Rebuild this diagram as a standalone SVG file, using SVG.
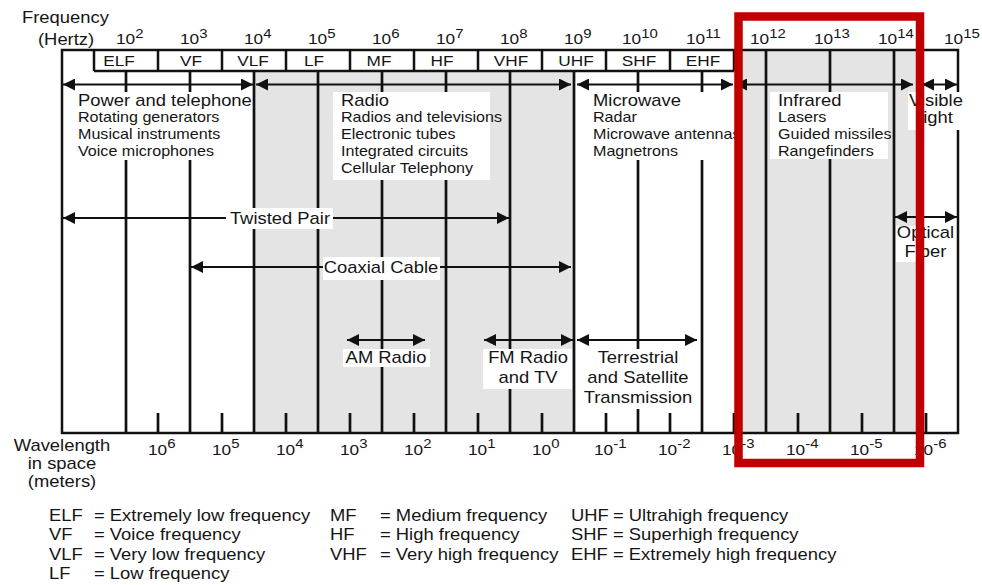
<svg xmlns="http://www.w3.org/2000/svg" width="982" height="585" viewBox="0 0 982 585">
  <defs>
    <marker id="head" viewBox="0 0 12 12" refX="12" refY="6" markerWidth="12" markerHeight="12" markerUnits="userSpaceOnUse" orient="auto-start-reverse">
      <path d="M0,0 L12,6 L0,12 Z" fill="#111"/>
    </marker>
    <style>
      text { font-family: "Liberation Sans", Arial, sans-serif; fill: #151515; font-size: 16px;
             transform-box: fill-box; transform: scaleX(1.15); transform-origin: 0 0; }
      text.m { text-anchor: middle; transform-origin: 50% 0; }
      text.sm { font-size: 14px; }
      text.band { font-size: 15px; }
      text.fq { font-size: 15px; }
      text.wl { font-size: 15px; }
      .shade { fill: #e4e4e4; }
      .bg { fill: #ffffff; }
      .dec { stroke: #111; stroke-width: 2.7; fill: none; }
      .frame { stroke: #111; stroke-width: 2.5; fill: none; }
      .arrow { stroke: #111; stroke-width: 2; fill: none; marker-start: url(#head); marker-end: url(#head); }
    </style>
  </defs>

  <!-- shaded spectrum bands -->
  <g id="shading">
    <rect class="shade" x="254" y="71" width="320" height="362"/>
    <rect class="shade" x="734" y="50" width="184" height="383"/>
  </g>

  <!-- frequency axis labels -->
  <g id="frequency-axis">
    <text x="22" y="23.5">Frequency</text>
    <text x="38" y="45">(Hertz)</text>
    <text class="fq" x="116" y="44.5">10<tspan dy="-6.5" font-size="13">2</tspan></text>
    <text class="fq" x="180" y="44.5">10<tspan dy="-6.5" font-size="13">3</tspan></text>
    <text class="fq" x="244" y="44.5">10<tspan dy="-6.5" font-size="13">4</tspan></text>
    <text class="fq" x="308" y="44.5">10<tspan dy="-6.5" font-size="13">5</tspan></text>
    <text class="fq" x="372" y="44.5">10<tspan dy="-6.5" font-size="13">6</tspan></text>
    <text class="fq" x="436" y="44.5">10<tspan dy="-6.5" font-size="13">7</tspan></text>
    <text class="fq" x="500" y="44.5">10<tspan dy="-6.5" font-size="13">8</tspan></text>
    <text class="fq" x="564" y="44.5">10<tspan dy="-6.5" font-size="13">9</tspan></text>
    <text class="fq" x="622" y="44.5">10<tspan dy="-6.5" font-size="13">10</tspan></text>
    <text class="fq" x="686" y="44.5">10<tspan dy="-6.5" font-size="13">11</tspan></text>
    <text class="fq" x="750" y="44.5">10<tspan dy="-6.5" font-size="13">12</tspan></text>
    <text class="fq" x="814" y="44.5">10<tspan dy="-6.5" font-size="13">13</tspan></text>
    <text class="fq" x="878" y="44.5">10<tspan dy="-6.5" font-size="13">14</tspan></text>
    <text class="fq" x="944" y="44.5">10<tspan dy="-6.5" font-size="13">15</tspan></text>
  </g>

  <!-- band name boxes -->
  <g id="bands">
    <path class="frame" d="M94,71 H734 M94,50 V71 M158,50 V71 M222,50 V71 M286,50 V71 M350,50 V71 M414,50 V71 M478,50 V71 M542,50 V71 M606,50 V71 M670,50 V71 M734,50 V71"/>
    <text class="band m" x="119" y="66.5">ELF</text>
    <text class="band m" x="191" y="66.5">VF</text>
    <text class="band m" x="253" y="66.5">VLF</text>
    <text class="band m" x="314" y="66.5">LF</text>
    <text class="band m" x="379" y="66.5">MF</text>
    <text class="band m" x="442" y="66.5">HF</text>
    <text class="band m" x="511" y="66.5">VHF</text>
    <text class="band m" x="576" y="66.5">UHF</text>
    <text class="band m" x="639" y="66.5">SHF</text>
    <text class="band m" x="703" y="66.5">EHF</text>
  </g>

  <!-- decade grid, half-decade ticks and outer frame -->
  <g id="grid">
    <path class="dec" d="M126,71 V433 M190,71 V433 M254,71 V433 M318,71 V433 M382,71 V433 M446,71 V433 M510,71 V433 M574,71 V433 M638,71 V433 M702,71 V433 M766,50 V433 M830,50 V433 M894,50 V433"/>
    <path class="dec" d="M158,413 V433 M222,413 V433 M286,413 V433 M350,413 V433 M414,413 V433 M478,413 V433 M542,413 V433 M606,413 V433 M670,413 V433 M734,413 V433 M798,413 V433 M862,413 V433 M926,413 V433"/>
    <path class="frame" d="M62,50 H958 V433 H62 Z"/>
  </g>

  <!-- range arrows -->
  <g id="connectors">
    <path class="arrow" d="M63,84.5 H253"/>
    <path class="arrow" d="M256,84.5 H571"/>
    <path class="arrow" d="M577,84.5 H733"/>
    <path class="arrow" d="M735,84.5 H913"/>
    <path class="arrow" d="M922,84.5 H957"/>
    <path class="arrow" d="M63,218 H509"/>
    <path class="arrow" d="M191,267 H571"/>
    <path class="arrow" d="M895,217 H957"/>
    <path class="arrow" d="M347,340 H425"/>
    <path class="arrow" d="M484,340 H573"/>
    <path class="arrow" d="M577,340 H697"/>
  </g>

  <g id="power">
    <rect class="bg" x="70" y="92" width="180" height="68"/>
    <text x="78" y="106">Power and telephone</text>
    <text class="sm" x="78" y="122.5">Rotating generators</text>
    <text class="sm" x="78" y="139.5">Musical instruments</text>
    <text class="sm" x="78" y="156.5">Voice microphones</text>
  </g>

  <g id="radio">
    <rect class="bg" x="333" y="92" width="157" height="88"/>
    <text x="341" y="106">Radio</text>
    <text class="sm" x="341" y="122.5">Radios and televisions</text>
    <text class="sm" x="341" y="139.5">Electronic tubes</text>
    <text class="sm" x="341" y="156.5">Integrated circuits</text>
    <text class="sm" x="341" y="173.5">Cellular Telephony</text>
  </g>

  <g id="microwave">
    <rect class="bg" x="588" y="92" width="145" height="68"/>
    <text x="593" y="106">Microwave</text>
    <text class="sm" x="593" y="122.5">Radar</text>
    <text class="sm" x="593" y="139.5">Microwave antennas</text>
    <text class="sm" x="593" y="156.5">Magnetrons</text>
  </g>

  <g id="infrared">
    <rect class="bg" x="770" y="92" width="118" height="67"/>
    <text x="778" y="106">Infrared</text>
    <text class="sm" x="778" y="122.5">Lasers</text>
    <text class="sm" x="778" y="139.5">Guided missiles</text>
    <text class="sm" x="778" y="156.5">Rangefinders</text>
  </g>

  <g id="visible-light">
    <rect class="bg" x="908" y="92" width="54" height="38"/>
    <text class="m" x="936" y="106">Visible</text>
    <text class="m" x="936" y="123.5">light</text>
  </g>

  <g id="twisted-pair">
    <rect class="bg" x="226" y="208" width="107" height="21"/>
    <text class="m" x="280" y="224">Twisted Pair</text>
  </g>

  <g id="coaxial-cable">
    <rect class="bg" x="323" y="257" width="117" height="23"/>
    <text class="m" x="381" y="273">Coaxial Cable</text>
  </g>

  <g id="optical-fiber">
    <rect class="bg" x="896" y="226" width="60" height="36"/>
    <text class="m" x="925.5" y="238.5">Optical</text>
    <text class="m" x="925.5" y="257.5">Fiber</text>
  </g>

  <g id="am-radio">
    <rect class="bg" x="343" y="349" width="87" height="18"/>
    <text class="m" x="386" y="363">AM Radio</text>
  </g>

  <g id="fm-radio">
    <rect class="bg" x="483" y="349" width="89" height="40"/>
    <text class="m" x="528" y="363">FM Radio</text>
    <text class="m" x="528" y="383">and TV</text>
  </g>

  <g id="terrestrial">
    <rect class="bg" x="585" y="349" width="107" height="60"/>
    <text class="m" x="638" y="363">Terrestrial</text>
    <text class="m" x="638" y="383">and Satellite</text>
    <text class="m" x="638" y="403">Transmission</text>
  </g>

  <!-- wavelength axis -->
  <g id="wavelength-axis">
    <text class="m" x="62" y="451">Wavelength</text>
    <text class="m" x="62" y="469">in space</text>
    <text class="m" x="62" y="487.5">(meters)</text>
    <text class="wl" x="148" y="455.5">10<tspan dy="-7.5" font-size="13">6</tspan></text>
    <text class="wl" x="212" y="455.5">10<tspan dy="-7.5" font-size="13">5</tspan></text>
    <text class="wl" x="276" y="455.5">10<tspan dy="-7.5" font-size="13">4</tspan></text>
    <text class="wl" x="340" y="455.5">10<tspan dy="-7.5" font-size="13">3</tspan></text>
    <text class="wl" x="404" y="455.5">10<tspan dy="-7.5" font-size="13">2</tspan></text>
    <text class="wl" x="468" y="455.5">10<tspan dy="-7.5" font-size="13">1</tspan></text>
    <text class="wl" x="532" y="455.5">10<tspan dy="-7.5" font-size="13">0</tspan></text>
    <text class="wl" x="594" y="455.5">10<tspan dy="-7.5" font-size="13">-1</tspan></text>
    <text class="wl" x="658" y="455.5">10<tspan dy="-7.5" font-size="13">-2</tspan></text>
    <text class="wl" x="722" y="455.5">10<tspan dy="-7.5" font-size="13">-3</tspan></text>
    <text class="wl" x="786" y="455.5">10<tspan dy="-7.5" font-size="13">-4</tspan></text>
    <text class="wl" x="850" y="455.5">10<tspan dy="-7.5" font-size="13">-5</tspan></text>
    <text class="wl" x="914" y="455.5">10<tspan dy="-7.5" font-size="13">-6</tspan></text>
  </g>

  <!-- abbreviation key -->
  <g id="legend">
    <text x="49" y="521">ELF</text>
    <text x="94" y="521">= Extremely low frequency</text>
    <text x="49" y="540.5">VF</text>
    <text x="94" y="540.5">= Voice frequency</text>
    <text x="49" y="560">VLF</text>
    <text x="94" y="560">= Very low frequency</text>
    <text x="49" y="579">LF</text>
    <text x="94" y="579">= Low frequency</text>
    <text x="330" y="521">MF</text>
    <text x="380" y="521">= Medium frequency</text>
    <text x="330" y="540.5">HF</text>
    <text x="380" y="540.5">= High frequency</text>
    <text x="330" y="560">VHF</text>
    <text x="380" y="560">= Very high frequency</text>
    <text x="571" y="521">UHF</text>
    <text x="613" y="521">= Ultrahigh frequency</text>
    <text x="571" y="540.5">SHF</text>
    <text x="613" y="540.5">= Superhigh frequency</text>
    <text x="571" y="560">EHF</text>
    <text x="613" y="560">= Extremely high frequency</text>
  </g>

  <!-- highlight around the infrared range -->
  <g id="highlight">
    <rect x="738.5" y="16.5" width="181.5" height="446.5" fill="none" stroke="#c00000" stroke-width="8.5"/>
  </g>
</svg>
